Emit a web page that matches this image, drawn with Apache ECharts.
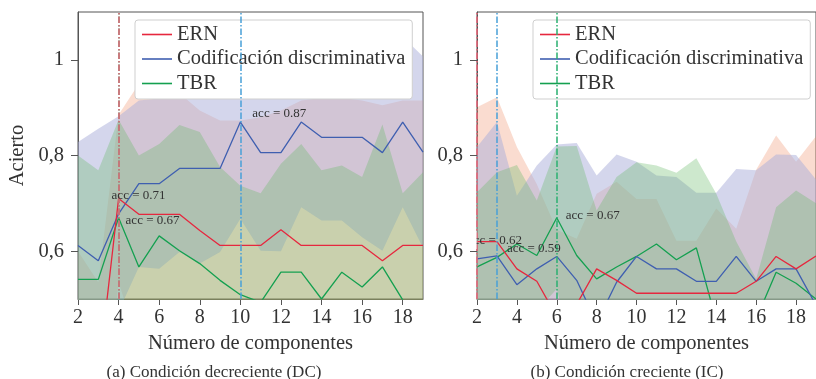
<!DOCTYPE html>
<html>
<head>
<meta charset="utf-8">
<script src="https://cdn.jsdelivr.net/npm/echarts@6/dist/echarts.min.js"></script>
<style>
  html, body { margin: 0; padding: 0; background: #fff; }
  #chart { width: 816px; height: 379px; }
</style>
</head>
<body>
<div id="chart"></div>
<script>
// Número de componentes
const components = [2, 3, 4, 5, 6, 7, 8, 9, 10, 11, 12, 13, 14, 15, 16, 17, 18, 19];

// (a) Condición decreciente (DC): mean accuracy and standard deviation
const dcErn    = [0.33, 0.34, 0.71, 0.677, 0.677, 0.677, 0.643, 0.612, 0.612, 0.612, 0.645, 0.612, 0.612, 0.612, 0.612, 0.58, 0.612, 0.612];
const dcErnStd = [0.27, 0.195, 0.175, 0.273, 0.263, 0.253, 0.251, 0.261, 0.261, 0.268, 0.249, 0.303, 0.308, 0.308, 0.303, 0.325, 0.303, 0.303];
const dcCod    = [0.612, 0.58, 0.678, 0.741, 0.741, 0.773, 0.773, 0.773, 0.87, 0.806, 0.806, 0.87, 0.838, 0.838, 0.838, 0.806, 0.87, 0.807];
const dcCodStd = [0.216, 0.276, 0.204, 0.174, 0.178, 0.175, 0.199, 0.175, 0.202, 0.205, 0.206, 0.178, 0.174, 0.174, 0.209, 0.205, 0.178, 0.2];
const dcTbr    = [0.541, 0.541, 0.67, 0.567, 0.632, 0.601, 0.574, 0.539, 0.509, 0.493, 0.556, 0.556, 0.5, 0.556, 0.525, 0.567, 0.498, 0.47];
const dcTbrStd = [0.259, 0.228, 0.205, 0.233, 0.192, 0.263, 0.275, 0.237, 0.228, 0.228, 0.227, 0.268, 0.269, 0.223, 0.23, 0.298, 0.223, 0.295];

// (b) Condición creciente (IC)
const icErn    = [0.62, 0.62, 0.563, 0.537, 0.463, 0.489, 0.563, 0.539, 0.512, 0.512, 0.512, 0.512, 0.512, 0.512, 0.537, 0.589, 0.563, 0.59];
const icErnStd = [0.281, 0.302, 0.255, 0.203, 0.182, 0.137, 0.157, 0.206, 0.197, 0.197, 0.11, 0.11, 0.177, 0.135, 0.233, 0.253, 0.224, 0.25];
const icCod    = [0.584, 0.59, 0.53, 0.563, 0.589, 0.539, 0.45, 0.535, 0.589, 0.563, 0.563, 0.537, 0.537, 0.589, 0.537, 0.563, 0.563, 0.487];
const icCodStd = [0.234, 0.28, 0.186, 0.216, 0.234, 0.287, 0.308, 0.267, 0.198, 0.195, 0.192, 0.185, 0.185, 0.183, 0.232, 0.239, 0.238, 0.263];
const icTbr    = [0.567, 0.587, 0.615, 0.591, 0.67, 0.591, 0.542, 0.567, 0.589, 0.615, 0.582, 0.607, 0.454, 0.44, 0.458, 0.556, 0.533, 0.5];
const icTbrStd = [0.156, 0.178, 0.165, 0.115, 0.149, 0.229, 0.143, 0.188, 0.197, 0.164, 0.182, 0.187, 0.266, 0.18, 0.084, 0.136, 0.194, 0.2];

const seriesNames = ['ERN', 'Codificación discriminativa', 'TBR'];
const yTicks = [0.6, 0.8, 1];
const xTicks = [2, 4, 6, 8, 10, 12, 14, 16, 18];
const captions = ['(a) Condición decreciente (DC)', '(b) Condición creciente (IC)'];

const FONT = '"Liberation Serif", "Times New Roman", serif';
const INK = '#333';
const AXIS = '#555';
const categories = components.map(String);

const style = {
  ERN: { line: '#e6273e', band: 'rgba(240,140,100,0.3)', vline: '#ec6478' },
  'Codificación discriminativa': { line: '#3f5fb0', band: 'rgba(169,173,217,0.5)', vline: '#48a0d8' },
  TBR: { line: '#14a050', band: 'rgba(103,185,103,0.33)', vline: '#2ab070' }
};

// mean ± std band as two stacked series (invisible lower edge + filled span)
function band(key, mean, std, g) {
  const stack = 'band_' + g + '_' + key;
  return [
    {
      type: 'line', name: stack + '_lo', xAxisIndex: g, yAxisIndex: g, stack,
      data: mean.map((m, i) => m - std[i]),
      symbol: 'none', silent: true, lineStyle: { opacity: 0 }, z: 1
    },
    {
      type: 'line', name: stack + '_hi', xAxisIndex: g, yAxisIndex: g, stack,
      data: std.map(s => 2 * s),
      symbol: 'none', silent: true, lineStyle: { opacity: 0 },
      areaStyle: { color: style[key].band, opacity: 1 }, z: 1
    }
  ];
}

// mean line, with a dash-dot marker at its best value and an "acc" note
function meanLine(key, mean, g, offset) {
  let best = 0;
  mean.forEach((v, i) => { if (v > mean[best]) best = i; });
  const bx = categories[best], by = mean[best];
  return {
    type: 'line', name: key, xAxisIndex: g, yAxisIndex: g,
    data: mean.slice(),
    symbol: 'none', z: 3,
    lineStyle: { color: style[key].line, width: 1.3 },
    itemStyle: { color: style[key].line },
    markLine: {
      symbol: ['none', 'none'], silent: true, label: { show: false },
      lineStyle: { color: style[key].vline, type: [6.5, 2, 1.5, 2], width: 1.5 },
      data: [{ xAxis: bx }]
    },
    markPoint: {
      symbol: 'circle', symbolSize: 0, silent: true,
      data: [{
        coord: [bx, by],
        label: {
          show: true, formatter: 'acc = ' + by.toFixed(2),
          position: offset, align: 'left', verticalAlign: 'middle',
          fontFamily: FONT, fontSize: 13, color: INK
        }
      }]
    }
  };
}

const evenTick = (idx, val) => xTicks.indexOf(Number(val)) >= 0;

function xAxis(g) {
  return {
    type: 'category', gridIndex: g, data: categories, boundaryGap: false,
    name: 'Número de componentes', nameLocation: 'middle', nameGap: 30,
    nameTextStyle: { fontFamily: FONT, fontSize: 20.5, color: INK },
    axisLine: { show: true, lineStyle: { color: AXIS, width: 1 } },
    axisTick: { show: true, inside: false, length: 6, interval: evenTick, lineStyle: { color: AXIS } },
    axisLabel: { fontFamily: FONT, fontSize: 20, color: INK, margin: 9, interval: evenTick },
    splitLine: { show: false }
  };
}

function yAxis(g, withName) {
  const ax = {
    type: 'value', gridIndex: g, min: 0.5, max: 1.1,
    axisLine: { show: true, lineStyle: { color: AXIS, width: 1 } },
    axisTick: { show: true, inside: false, length: 7, lineStyle: { color: AXIS }, customValues: yTicks },
    axisLabel: { fontFamily: FONT, fontSize: 20.5, color: INK, margin: 14, customValues: yTicks,
                 formatter: v => String(Math.round(v * 10) / 10).replace('.', ',') },
    splitLine: { show: false }
  };
  if (withName) {
    ax.name = 'Acierto';
    ax.nameLocation = 'middle';
    ax.nameGap = 50;
    ax.nameTextStyle = { fontFamily: FONT, fontSize: 20.5, color: INK };
  }
  return ax;
}

function legend(left) {
  return {
    left, top: 20, orient: 'vertical', data: seriesNames, selectedMode: false,
    icon: 'rect', itemWidth: 30, itemHeight: 1.6, itemGap: 3.5, padding: [4, 7, 5, 7],
    backgroundColor: '#fff', borderColor: '#cfcfcf', borderWidth: 1, borderRadius: 3,
    textStyle: { fontFamily: FONT, fontSize: 20.5, color: INK }
  };
}

const series = [
  ...band('ERN', dcErn, dcErnStd, 0),
  ...band('Codificación discriminativa', dcCod, dcCodStd, 0),
  ...band('TBR', dcTbr, dcTbrStd, 0),
  meanLine('TBR', dcTbr, 0, [7, 3]),
  meanLine('Codificación discriminativa', dcCod, 0, [12, -8]),
  meanLine('ERN', dcErn, 0, [-7, -3]),

  ...band('ERN', icErn, icErnStd, 1),
  ...band('Codificación discriminativa', icCod, icCodStd, 1),
  ...band('TBR', icTbr, icTbrStd, 1),
  meanLine('TBR', icTbr, 1, [9, -2]),
  meanLine('Codificación discriminativa', icCod, 1, [10, -7]),
  meanLine('ERN', icErn, 1, [-9, -1])
];

const chart = echarts.init(document.getElementById('chart'), null, { renderer: 'canvas' });
chart.setOption({
  animation: false,
  backgroundColor: '#fff',
  grid: [
    { left: 78, top: 12, width: 345, height: 287, show: true, borderColor: AXIS, borderWidth: 1, backgroundColor: 'transparent' },
    { left: 477, top: 12, width: 345, height: 287, show: true, borderColor: AXIS, borderWidth: 1, backgroundColor: 'transparent' }
  ],
  xAxis: [xAxis(0), xAxis(1)],
  yAxis: [yAxis(0, true), yAxis(1, false)],
  legend: [legend(135), legend(533)],
  series,
  graphic: [
    // keeps the note at the left edge of panel (b) clipped to the plot area
    { type: 'rect', shape: { x: 463, y: 231, width: 13.5, height: 18 }, style: { fill: '#fff' }, z: 100 },
    { type: 'text', x: 214, y: 373, z: 100,
      style: { text: captions[0], fontFamily: FONT, fontSize: 17, fill: INK, align: 'center', verticalAlign: 'middle' } },
    { type: 'text', x: 627, y: 373, z: 100,
      style: { text: captions[1], fontFamily: FONT, fontSize: 17, fill: INK, align: 'center', verticalAlign: 'middle' } }
  ]
});
</script>
</body>
</html>
